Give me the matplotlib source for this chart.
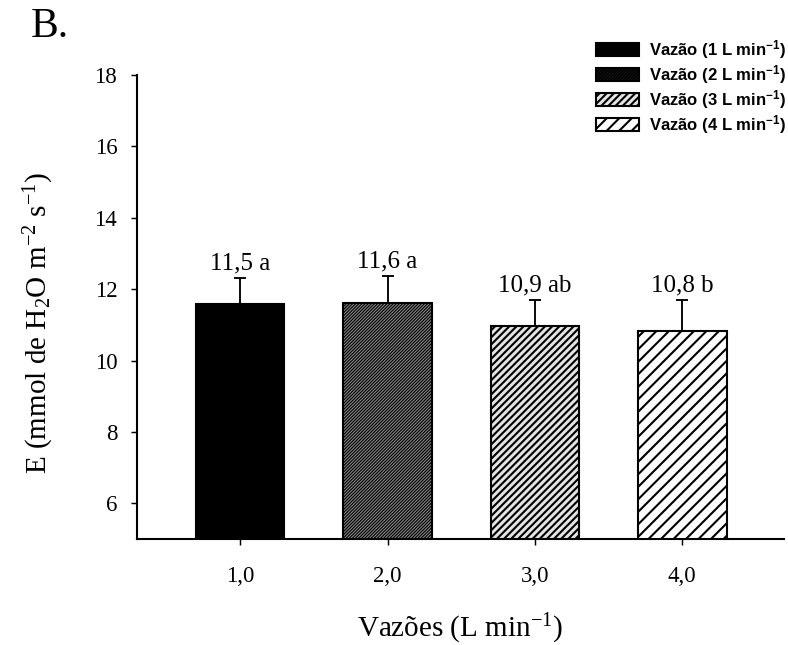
import numpy as np
import matplotlib.pyplot as plt

# dados
vazoes = [1.0, 2.0, 3.0, 4.0]
tick_labels = ['1,0', '2,0', '3,0', '4,0']
E_medias = [11.58, 11.62, 10.97, 10.84]
E_erro = [0.73, 0.76, 0.73, 0.86]
rotulos = ['11,5 a', '11,6 a', '10,9 ab', '10,8 b']
legendas = ['Vazão (1 L min$\\mathregular{^{-1}}$)', 'Vazão (2 L min$\\mathregular{^{-1}}$)',
            'Vazão (3 L min$\\mathregular{^{-1}}$)', 'Vazão (4 L min$\\mathregular{^{-1}}$)']

cores = ['black', '#8a8a8a', '#e4e4e4', 'white']
hachuras = [None, '/' * 16, '/' * 7, '/' * 4]
esp_hachura = [1.0, 0.55, 1.0, 1.0]

plt.rcParams['font.family'] = 'Liberation Serif'

dpi = 150
fig = plt.figure(figsize=(788 / dpi, 645 / dpi), dpi=dpi)
ax = fig.add_axes([137 / 788, 106 / 645, 647 / 788, 464 / 645])

barras = []
for x, m, c, h, hw, lab in zip(vazoes, E_medias, cores, hachuras, esp_hachura, legendas):
    with plt.rc_context({'hatch.linewidth': hw}):
        b = ax.bar(x, m, width=0.6, color=c, edgecolor='black', linewidth=1.0,
                   hatch=h, label=lab, zorder=2)
    barras.append(b)

ax.errorbar(vazoes, E_medias, yerr=[np.zeros(4), E_erro], fmt='none',
            ecolor='black', elinewidth=0.9, capsize=3.0, capthick=0.9, zorder=1)

for x, m, e, r in zip(vazoes, E_medias, E_erro, rotulos):
    ax.annotate(r, (x, m + e), xytext=(0, 4), textcoords='offset points',
                ha='center', va='baseline', fontsize=12)

ax.set_xlim(0.3, 4.69)
ax.set_ylim(5, 18)
ax.set_yticks(np.arange(6, 19, 2))
ax.set_xticks(vazoes)
ax.set_xticklabels(tick_labels)
ax.spines['top'].set_visible(False)
ax.spines['right'].set_visible(False)
ax.spines['left'].set_linewidth(1.0)
ax.spines['bottom'].set_linewidth(1.0)
ax.tick_params(axis='y', direction='out', length=3, width=0.7, labelsize=11, pad=6.5)
ax.tick_params(axis='x', direction='out', length=3, width=0.7, labelsize=11, pad=10)

ax.set_xlabel('Vazões (L min$\\mathregular{^{-1}}$)', fontsize=14, labelpad=12)
ax.set_ylabel('E (mmol de H$\\mathregular{_2}$O m$\\mathregular{^{-2}}$ s$\\mathregular{^{-1}}$)',
              fontsize=14)
ax.yaxis.set_label_coords(-0.125, 0.465)

fig.text(31 / 788, 1 - 37 / 645, 'B.', fontsize=20)

fig.legend(handles=barras, loc='upper right', bbox_to_anchor=(786 / 788, 1 - 38 / 645),
           frameon=False, prop={'family': 'Liberation Sans', 'weight': 'bold', 'size': 8},
           handlelength=2.6, handleheight=0.85, labelspacing=0.12, handletextpad=0.6,
           borderpad=0, borderaxespad=0)

fig.savefig('out.png', dpi=dpi)
